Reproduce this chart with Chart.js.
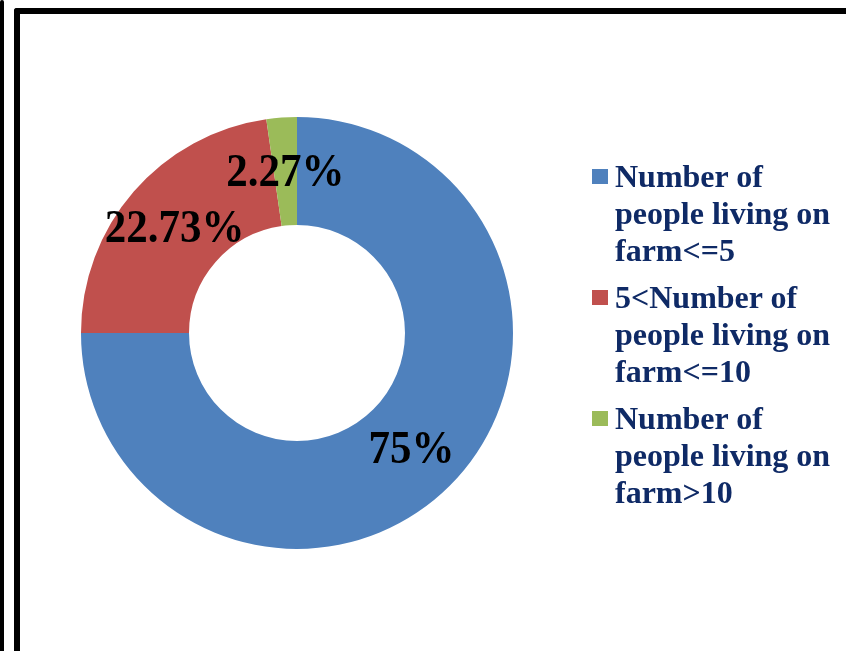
<!DOCTYPE html>
<html>
<head>
<meta charset="utf-8">
<script src="https://cdn.jsdelivr.net/npm/chart.js@4/dist/chart.umd.min.js"></script>
<style>
  html, body { margin: 0; padding: 0; background: #fff; }
  #wrap { position: relative; width: 846px; height: 651px; overflow: hidden; }
  #chart { position: absolute; left: 0; top: 0; }
  .bar { position: absolute; background: #000; }
  #legend {
    position: absolute; left: 592px; top: 158px;
    font-family: "Liberation Serif", "Times New Roman", serif;
    font-weight: bold; font-size: 32px; line-height: 37px; color: #0f2a66;
  }
  #legend .item { position: relative; padding-left: 23px; margin-bottom: 10px; white-space: nowrap; }
  #legend .box { position: absolute; left: 0; top: 11px; width: 16px; height: 15px; }
</style>
</head>
<body>
<div id="wrap">
  <canvas id="chart" width="846" height="651"></canvas>
  <div class="bar" style="left:0;top:0;width:4px;height:651px;border-radius:2px 2px 0 0"></div>
  <div class="bar" style="left:14px;top:8px;width:6px;height:643px;border-radius:3px 0 0 0"></div>
  <div class="bar" style="left:14px;top:8px;width:832px;height:6px;border-radius:3px 0 0 0"></div>
  <div id="legend"></div>
</div>
<script>
const categories = [
  ['Number of', 'people living on', 'farm<=5'],
  ['5<Number of', 'people living on', 'farm<=10'],
  ['Number of', 'people living on', 'farm>10']
];
const shares = [75, 22.73, 2.27];
const shareLabels = ['75%', '22.73%', '2.27%'];

const sliceColors = ['#4f81bd', '#c0504d', '#9bbb59'];

// writes the percentage on top of each slice (slightly tall glyphs)
const sliceText = {
  id: 'sliceText',
  afterDatasetsDraw(chart) {
    let ctx = chart.ctx;
    let meta = chart.getDatasetMeta(0);
    ctx.font = 'bold 43px "Liberation Serif", "Times New Roman", serif';
    ctx.fillStyle = '#000';
    ctx.textAlign = 'center';
    ctx.textBaseline = 'middle';
    meta.data.forEach((arc, i) => {
      let p = arc.tooltipPosition();
      ctx.save();
      ctx.translate(p.x, p.y + 3);
      ctx.scale(1, 1.08);
      ctx.fillText(shareLabels[i], 0, 0);
      ctx.restore();
    });
  }
};

let ctx = document.getElementById('chart').getContext('2d');
let chart = new Chart(ctx, {
  type: 'doughnut',
  data: {
    labels: categories,
    datasets: [{
      data: shares,
      backgroundColor: sliceColors,
      borderWidth: 0,
      hoverOffset: 0
    }]
  },
  options: {
    responsive: false,
    animation: false,
    cutout: '50%',
    layout: { padding: { left: 81, top: 117, right: 333, bottom: 102 } },
    plugins: {
      legend: { display: false },
      tooltip: { enabled: false }
    }
  },
  plugins: [sliceText]
});

// legend beside the ring, one line per label row
let legendBox = document.getElementById('legend');
for (let item of chart.options.plugins.legend.labels.generateLabels(chart)) {
  let div = document.createElement('div');
  div.className = 'item';
  let box = document.createElement('span');
  box.className = 'box';
  box.style.background = item.fillStyle;
  div.appendChild(box);
  let lines = Array.isArray(item.text) ? item.text : [item.text];
  lines.forEach((line, i) => {
    if (i) div.appendChild(document.createElement('br'));
    div.appendChild(document.createTextNode(line));
  });
  legendBox.appendChild(div);
}
</script>
</body>
</html>
